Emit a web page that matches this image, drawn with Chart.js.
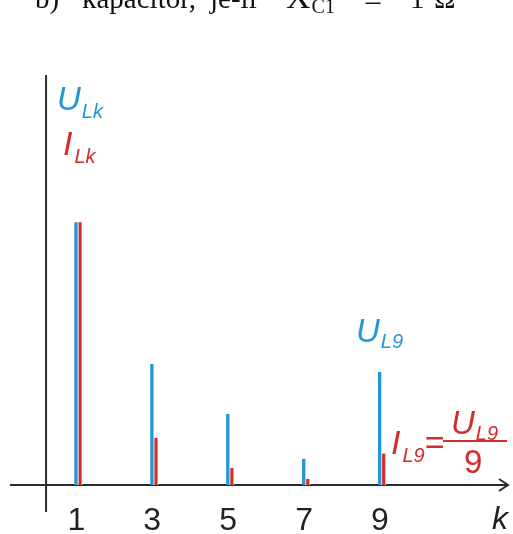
<!DOCTYPE html>
<html>
<head>
<meta charset="utf-8">
<script src="https://cdn.jsdelivr.net/npm/chart.js@4"></script>
<style>
  html, body { margin: 0; padding: 0; background: #fff; }
  #wrap { position: relative; width: 513px; height: 534px; }
</style>
</head>
<body>
<div id="wrap"><canvas id="spectrum"></canvas></div>
<script>
// harmonic orders and amplitudes (relative, U_L1 = 100)
const harmonics = [1, 3, 5, 7, 9];
const voltageU = [100, 46, 27, 10, 43];
const currentI = [100, 18, 6.5, 2.3, 12];
const tickLabels = ["1", "3", "5", "7", "9"];

const BLUE = "#2396d6";
const RED = "#d22c2c";
const AXIS = "#2b2b2b";
const SANS = "'Liberation Sans', Arial, sans-serif";
const SERIF = "'Liberation Serif', 'Times New Roman', serif";

// where the vertical axis crosses the k axis
const AXIS_ORIGIN_K = 0.15;

function text(ctx, str, x, y, font, color) {
    ctx.font = font;
    ctx.fillStyle = color;
    ctx.fillText(str, x, y);
    return x + ctx.measureText(str).width;
}

const axesPlugin = {
    id: "axesAndLabels",
    beforeDatasetsDraw(chart) {
        const ctx = chart.ctx;
        const area = chart.chartArea;
        const xs = chart.scales.x;
        const ys = chart.scales.y;
        const y0 = ys.getPixelForValue(0);
        const xAxis = xs.getPixelForValue(AXIS_ORIGIN_K);

        ctx.save();
        ctx.strokeStyle = AXIS;
        ctx.lineWidth = 2;
        ctx.beginPath();
        ctx.moveTo(area.left, y0);
        ctx.lineTo(area.right, y0);
        ctx.moveTo(xAxis, area.top);
        ctx.lineTo(xAxis, y0 + 27);
        ctx.stroke();
        // open arrow head
        ctx.beginPath();
        ctx.moveTo(area.right - 9, y0 - 6);
        ctx.lineTo(area.right, y0);
        ctx.lineTo(area.right - 9, y0 + 6);
        ctx.stroke();
        ctx.restore();
    },
    afterDraw(chart) {
        const ctx = chart.ctx;
        const xs = chart.scales.x;
        ctx.save();
        ctx.textBaseline = "alphabetic";

        // tick labels under the k axis
        ctx.textAlign = "center";
        harmonics.forEach((k, i) => {
            text(ctx, tickLabels[i], xs.getPixelForValue(k) - 2, 530, "32px " + SANS, "#222");
        });
        ctx.textAlign = "left";
        text(ctx, "k", 492, 529, "italic 32px " + SANS, "#222");

        // series labels
        let x = text(ctx, "U", 57, 110, "italic 33px " + SANS, BLUE);
        text(ctx, "Lk", x + 1, 118, "italic 20px " + SANS, BLUE);
        x = text(ctx, "I", 63, 155, "italic 34px " + SANS, RED);
        text(ctx, "Lk", x + 2, 163, "italic 20px " + SANS, RED);

        x = text(ctx, "U", 356, 342, "italic 33px " + SANS, BLUE);
        text(ctx, "L9", x + 1, 348, "italic 20px " + SANS, BLUE);

        // I_L9 = U_L9 / 9
        x = text(ctx, "I", 391, 454, "italic 34px " + SANS, RED);
        x = text(ctx, "L9", x + 2, 462, "italic 20px " + SANS, RED);
        text(ctx, "=", x, 454, "34px " + SANS, RED);
        ctx.fillStyle = RED;
        ctx.fillRect(443, 440, 64, 2);
        x = text(ctx, "U", 451, 434, "italic 33px " + SANS, RED);
        text(ctx, "L9", x + 1, 440, "italic 20px " + SANS, RED);
        text(ctx, "9", 464, 473, "33px " + SANS, RED);

        // heading line above the figure
        text(ctx, "b)", 35, 8, "29px " + SERIF, "#111");
        text(ctx, "kapacitor,", 82, 8, "29px " + SERIF, "#111");
        text(ctx, "je-li", 210, 8, "29px " + SERIF, "#111");
        x = text(ctx, "X", 286, 8, "34px " + SERIF, "#111");
        text(ctx, "C1", x + 1, 13, "20px " + SERIF, "#111");
        text(ctx, "=", 364, 11, "32px " + SERIF, "#111");
        text(ctx, "1", 410, 8, "29px " + SERIF, "#111");
        text(ctx, "\u03A9", 434, 8, "29px " + SERIF, "#111");
        ctx.restore();
    }
};

const stems = (values) => harmonics.map((k, i) => ({ x: k, y: values[i] }));

new Chart(document.getElementById("spectrum"), {
    type: "bar",
    data: {
        datasets: [
            {
                label: "U_Lk",
                data: stems(voltageU),
                backgroundColor: BLUE,
                borderColor: "#fff",
                borderWidth: { top: 0, right: 1, bottom: 0, left: 0 },
                borderSkipped: false,
            },
            {
                label: "I_Lk",
                data: stems(currentI),
                backgroundColor: RED,
                borderColor: "#fff",
                borderWidth: { top: 0, right: 1, bottom: 0, left: 0 },
                borderSkipped: false,
            },
        ],
    },
    options: {
        responsive: true,
        maintainAspectRatio: false,
        animation: false,
        barThickness: 4,
        layout: { padding: { left: 10, right: 5, top: 75, bottom: 49 } },
        plugins: { legend: { display: false }, tooltip: { enabled: false } },
        scales: {
            x: { type: "linear", min: -0.8, max: 12.32, offset: false, display: false },
            y: { min: 0, max: 156, display: false },
        },
    },
    plugins: [axesPlugin],
});
</script>
</body>
</html>
